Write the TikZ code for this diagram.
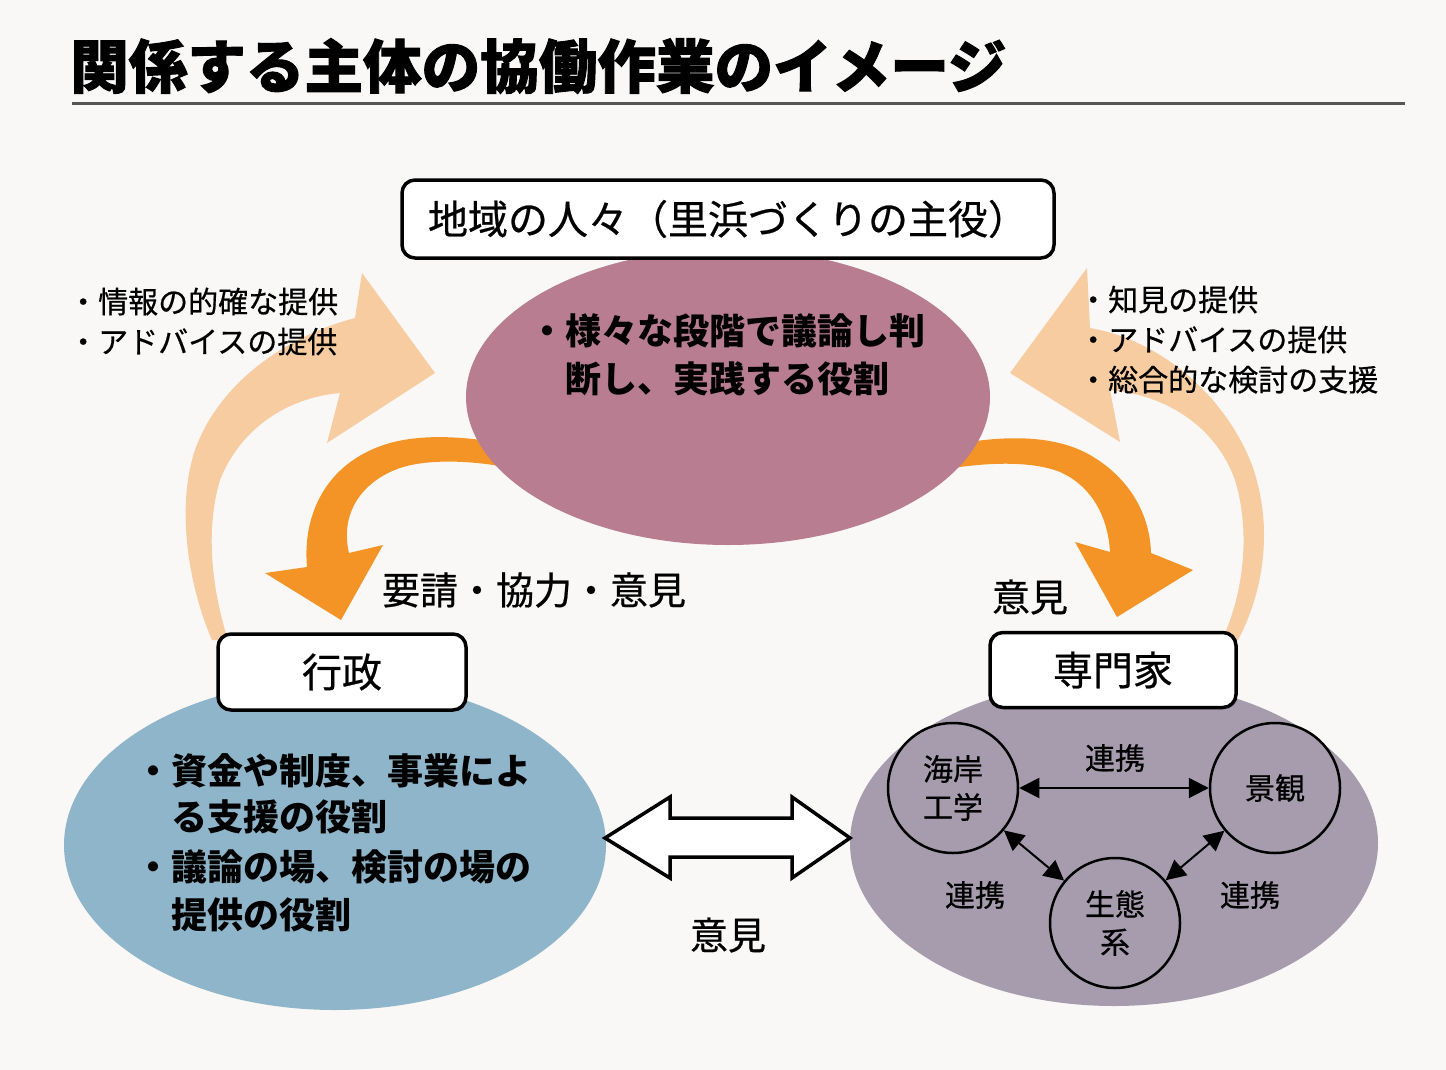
\documentclass[tikz,border=0pt]{standalone}
\usepackage{fontspec}
\setmainfont{Noto Sans CJK JP}
\newfontfamily\medfont{Noto Sans CJK JP}[FakeBold=0.6]
\newfontfamily\heavyfont{Noto Sans CJK JP}[BoldFeatures={FakeBold=1.6}]
\usetikzlibrary{shapes.geometric,arrows.meta,calc}
\definecolor{bgc}{RGB}{249,248,246}
\definecolor{peach}{RGB}{246,204,160}
\definecolor{orangec}{RGB}{245,148,38}
\definecolor{pinkc}{RGB}{184,125,145}
\definecolor{bluec}{RGB}{142,181,201}
\definecolor{grayc}{RGB}{166,156,174}
\definecolor{rulec}{RGB}{85,85,85}
\newcommand\fsz[2]{\fontsize{#1}{#2}\selectfont}
\begin{document}
\begin{tikzpicture}[x=1pt,y=-1pt,
  lbl/.style={inner sep=0pt, text=black},
  rbox/.style={draw=black, line width=3.5pt, rounded corners=13pt, fill=white, inner sep=0pt},
  blob/.style={ellipse, inner sep=0pt},
  circ/.style={circle, draw=black, line width=2.5pt, minimum size=130pt, inner sep=0pt, align=center, font=\medfont\fsz{30}{38}},
  link/.style={line width=2pt, {Triangle[length=20pt,width=20pt]}-{Triangle[length=20pt,width=20pt]}},
  bigtxt/.style={lbl, anchor=base west, font=\fsz{36}{48}\bfseries},
  smalltxt/.style={lbl, anchor=base west, font=\medfont\fsz{30}{40}},
  midtxt/.style={lbl, font=\medfont\fsz{38}{44}},
]
\useasboundingbox (0,0) rectangle (1446,1070);
\fill[bgc] (0,0) rectangle (1446,1070);

% title
\node[lbl, anchor=west, font=\heavyfont\fsz{58}{62}\bfseries, xscale=1.01] (title) at (70,66) {関係する主体の協働作業のイメージ};
\draw[rulec, line width=3pt] (72,104) -- (1405,104);

% light arrows
\fill[peach] (435,373) -- (362,273) -- (355,318)
  .. controls (290,335) and (220,380) .. (195,450)
  .. controls (175,510) and (190,590) .. (212,640)
  -- (228,640)
  .. controls (212,590) and (205,530) .. (220,480)
  .. controls (240,430) and (285,398) .. (340,393)
  -- (327,443) -- cycle;
\fill[peach] (1010,373) -- (1087,268) -- (1090,328)
  .. controls (1160,340) and (1225,395) .. (1252,465)
  .. controls (1275,530) and (1262,595) .. (1238,640)
  -- (1222,640)
  .. controls (1245,590) and (1250,530) .. (1235,480)
  .. controls (1215,425) and (1165,395) .. (1110,390)
  -- (1120,442) -- cycle;

% orange arrows
\fill[orangec] (530,448) .. controls (480,438) and (430,432) .. (390,443)
  .. controls (330,460) and (302,510) .. (307,567)
  -- (265,573) -- (341,620) -- (383,545) -- (349,553)
  .. controls (340,515) and (360,482) .. (400,468)
  .. controls (430,458) and (480,460) .. (530,472) -- cycle;
\fill[orangec] (930,450) .. controls (990,435) and (1050,432) .. (1090,455)
  .. controls (1130,478) and (1150,515) .. (1151,553)
  -- (1193,570) -- (1117,617) -- (1075,542) -- (1110,552)
  .. controls (1108,515) and (1090,485) .. (1060,472)
  .. controls (1030,460) and (980,462) .. (930,472) -- cycle;

% ellipses
\node[blob, fill=pinkc, minimum width=524pt, minimum height=296pt] (pink) at (728,397) {};
\node[blob, fill=bluec, minimum width=542pt, minimum height=330pt] (blue) at (335,845) {};
\node[blob, fill=grayc, minimum width=528pt, minimum height=326pt] (gray) at (1114,843) {};

% boxes
\node[rbox, minimum width=652pt, minimum height=78pt, font=\medfont\fsz{40}{48}] (topbox) at (728,219) {地域の人々（里浜づくりの主役）};
\node[rbox, minimum width=248pt, minimum height=76pt, font=\medfont\fsz{40}{48}] (gyosei) at (342,672) {行政};
\node[rbox, minimum width=246pt, minimum height=75pt, font=\medfont\fsz{40}{48}] (senmon) at (1113,670) {専門家};

% texts in ellipses
\node[bigtxt] (p1) at (529,344) {・様々な段階で議論し判};
\node[bigtxt] (p2) at (565,392) {断し、実践する役割};
\node[bigtxt] (b1) at (135,784) {・資金や制度、事業によ};
\node[bigtxt] (b2) at (171,830) {る支援の役割};
\node[bigtxt] (b3) at (135,880) {・議論の場、検討の場の};
\node[bigtxt] (b4) at (171,928) {提供の役割};

% side texts
\node[smalltxt] (l1) at (68,313) {・情報の的確な提供};
\node[smalltxt] (l2) at (68,353) {・アドバイスの提供};
\node[smalltxt] (r1) at (1078,311) {・知見の提供};
\node[smalltxt] (r2) at (1078,351) {・アドバイスの提供};
\node[smalltxt] (r3) at (1078,391) {・総合的な検討の支援};

% labels
\node[midtxt] (req) at (534,590) {要請・協力・意見};
\node[midtxt] (op1) at (1030,597) {意見};
\node[midtxt] (op2) at (728,935) {意見};

% double arrow between blue and gray
\coordinate (dl) at (605,838);
\coordinate (dr) at (850,838);
\draw[black, line width=3.5pt, fill=white, line join=miter]
  (dl) -- ++(65,-41) -- ++(0,21) -- ($(dr)+(-58,-20)$) -- ++(0,-21) -- (dr)
  -- ++(-58,40) -- ++(0,-21) -- ($(dl)+(65,19)$) -- ++(0,21) -- cycle;

% expert circles
\node[circ] (c1) at (953,788) {海岸\\工学};
\node[circ] (c2) at (1275,788) {景観};
\node[circ] (c3) at (1115,923) {生態\\系};
\draw[link] (c1) -- (c2);
\draw[link] (c1) -- (c3);
\draw[link] (c2) -- (c3);
\node[lbl, font=\medfont\fsz{30}{36}] (k1) at (1115,758) {連携};
\node[lbl, font=\medfont\fsz{30}{36}] (k2) at (975,895) {連携};
\node[lbl, font=\medfont\fsz{30}{36}] (k3) at (1250,895) {連携};
\end{tikzpicture}
\end{document}
